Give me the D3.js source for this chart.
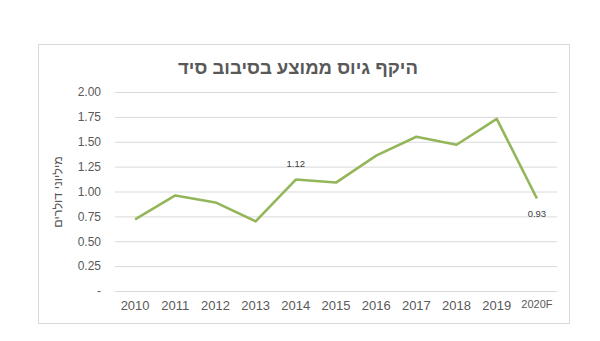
<!DOCTYPE html>
<html><head><meta charset="utf-8">
<script src="https://cdn.jsdelivr.net/npm/d3@7"></script>
<style>
html,body{margin:0;padding:0;background:#fff;}
svg{display:block;}
</style></head>
<body>
<svg id="c" width="600" height="341"></svg>
<script>
const categories = ["2010","2011","2012","2013","2014","2015","2016","2017","2018","2019","2020F"];
const values = [0.72,0.96,0.89,0.70,1.12,1.09,1.36,1.55,1.47,1.73,0.93];
const yTicks = [0,0.25,0.5,0.75,1.0,1.25,1.5,1.75,2.0];
const labeled = ["2014","2020F"];
const title = "היקף גיוס ממוצע בסיבוב סיד";
const yTitle = "מיליוני דולרים";

const svg = d3.select("#c");
const font = "'Liberation Sans', Arial, sans-serif";
const grey = "#595959";

svg.append("rect").attr("x",38.5).attr("y",44.5).attr("width",531).attr("height",279)
  .attr("fill","#fff").attr("stroke","#d9d9d9").attr("stroke-width",1);

svg.append("text").attr("x",298).attr("y",74).attr("text-anchor","middle")
  .attr("font-family",font).attr("font-size",18.5).attr("font-weight","bold").attr("fill",grey)
  .text(title);

const x = d3.scaleBand().domain(categories).range([115,557]);
const y = d3.scaleLinear().domain([0,2]).range([291,92]);

const gy = svg.append("g").attr("transform","translate(115,0)")
  .call(d3.axisLeft(y).tickValues(yTicks).tickSize(-442)
    .tickFormat(d => d===0 ? "-" : d3.format(".2f")(d)));
gy.select(".domain").remove();
gy.selectAll(".tick line").attr("stroke","#d9d9d9").attr("stroke-width",1);
gy.selectAll(".tick text").attr("x",-14).attr("font-family",font).attr("font-size",12).attr("fill",grey);

const gx = svg.append("g").attr("transform","translate(0,291)")
  .call(d3.axisBottom(x).tickSize(0).tickPadding(8));
gx.select(".domain").remove();
gx.selectAll(".tick text").attr("font-family",font).attr("fill",grey)
  .attr("font-size", d => d==="2020F" ? 11 : 13).attr("dy","0.85em");

svg.append("text").attr("transform","translate(62,192) rotate(-90)")
  .attr("text-anchor","middle").attr("font-family",font).attr("font-size",12.5).attr("fill",grey)
  .text(yTitle);

const line = d3.line().x((d,i)=>x(categories[i])+x.bandwidth()/2).y(d=>y(d));
svg.append("path").datum(values).attr("d",line).attr("fill","none")
  .attr("stroke","#94b65a").attr("stroke-width",2.6).attr("stroke-linejoin","round");

categories.forEach((c,i)=>{
  if(!labeled.includes(c)) return;
  const cx = x(c)+x.bandwidth()/2;
  const above = c==="2014";
  svg.append("text").attr("x",cx).attr("y", above ? y(values[i])-13 : y(values[i])+19)
    .attr("text-anchor","middle").attr("font-family",font).attr("font-size",9.5).attr("fill","#404040")
    .text(values[i].toFixed(2));
});
</script>
</body></html>
